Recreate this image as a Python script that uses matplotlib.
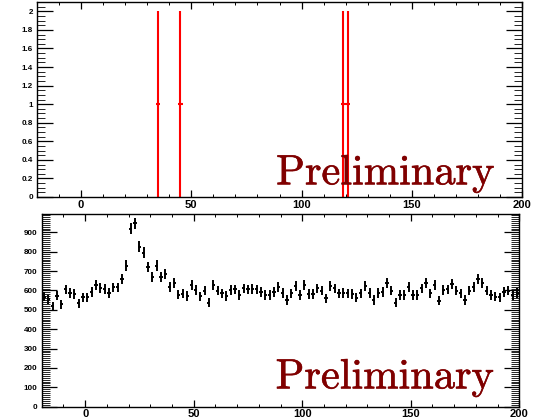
"""
Two stacked histogram panels: selected candidates (top, red) and the
full spectrum with Poisson errors (bottom, black), ROOT-like styling.
"""
import matplotlib
matplotlib.use("Agg")
import matplotlib.pyplot as plt
import matplotlib.patheffects as pe
from matplotlib.ticker import MultipleLocator
import numpy as np

plt.rcParams.update({
    "font.family": "Liberation Sans",
    "font.weight": "bold",
    "axes.linewidth": 1.0,
    "axes.edgecolor": "#000000",
})

# ---- binning: 110 bins of width 2 from -20 to 200 ----
x_lo, x_hi, bin_w = -20, 200, 2

# top panel: four entries, each with weight 1 and error 1
sel_x = [35, 45, 119, 121]
sel_y = [1, 1, 1, 1]
sel_err = [1, 1, 1, 1]

# bottom panel: counts per bin
counts = [
    568, 554, 520, 573, 528, 606, 588, 582, 533, 564,
    564, 592, 628, 612, 609, 588, 616, 616, 661, 728,
    920, 946, 826, 795, 720, 671, 728, 671, 687, 619,
    638, 579, 583, 572, 630, 602, 570, 599, 537, 628,
    599, 585, 571, 602, 606, 576, 611, 606, 607, 606,
    593, 576, 576, 593, 617, 588, 551, 585, 623, 576,
    628, 582, 582, 611, 599, 559, 623, 611, 585, 588,
    585, 582, 562, 585, 623, 588, 551, 588, 593, 640,
    599, 537, 576, 576, 619, 576, 576, 611, 637, 585,
    628, 547, 602, 606, 633, 599, 585, 551, 599, 619,
    657, 637, 599, 576, 568, 564, 593, 599, 576, 588,
]

centers = np.arange(x_lo + bin_w / 2, x_hi, bin_w)
counts = np.array(counts, dtype=float)

fig = plt.figure(figsize=(5.41, 4.20), dpi=100)
ax1 = fig.add_axes([0.0684, 0.531, 0.8965, 0.464])
ax2 = fig.add_axes([0.0771, 0.0317, 0.8828, 0.4588])


def root_style(ax, ymajor, yminor, ylen):
    ax.set_xlim(x_lo, x_hi)
    ax.xaxis.set_major_locator(MultipleLocator(50))
    ax.xaxis.set_minor_locator(MultipleLocator(10))
    ax.yaxis.set_major_locator(MultipleLocator(ymajor))
    ax.yaxis.set_minor_locator(MultipleLocator(yminor))
    ax.tick_params(axis="both", which="both", direction="in",
                   top=True, right=True, color="#000000")
    ax.tick_params(axis="y", which="major", length=ylen, width=0.9,
                   pad=3, labelsize=5.8)
    ax.tick_params(axis="y", which="minor", length=ylen / 2, width=0.6)
    ax.tick_params(axis="x", which="major", length=5, width=0.9,
                   pad=2, labelsize=8)
    ax.tick_params(axis="x", which="minor", length=2.5, width=0.7)
    for lab in ax.get_xticklabels() + ax.get_yticklabels():
        lab.set_fontweight("bold")


def preliminary(ax, x, y):
    ax.text(x, y, "Preliminary", transform=ax.transAxes,
            ha="right", va="baseline", fontsize=30.5, color="#800000",
            family="cmr10", fontweight="normal",
            path_effects=[pe.withStroke(linewidth=0.4, foreground="#800000")])


# ---- top panel ----
ax1.errorbar(sel_x, sel_y, yerr=sel_err, xerr=bin_w / 2, fmt="none",
             ecolor="#ff0000", elinewidth=1.5, capsize=0)
ax1.set_ylim(0, 2.1)
root_style(ax1, 0.2, 0.05, 11.5)
ax1.yaxis.set_major_formatter(plt.FuncFormatter(lambda v, p: f"{v:g}"))
preliminary(ax1, 0.942, 0.065)

# ---- bottom panel ----
ax2.errorbar(centers, counts, yerr=np.sqrt(counts), xerr=0.75, fmt="none",
             ecolor="#000000", elinewidth=1.4, capsize=0)
ax2.set_ylim(0, 995)
root_style(ax2, 100, 10, 11)
preliminary(ax2, 0.9456, 0.095)

fig.savefig("out.png", dpi=100)
